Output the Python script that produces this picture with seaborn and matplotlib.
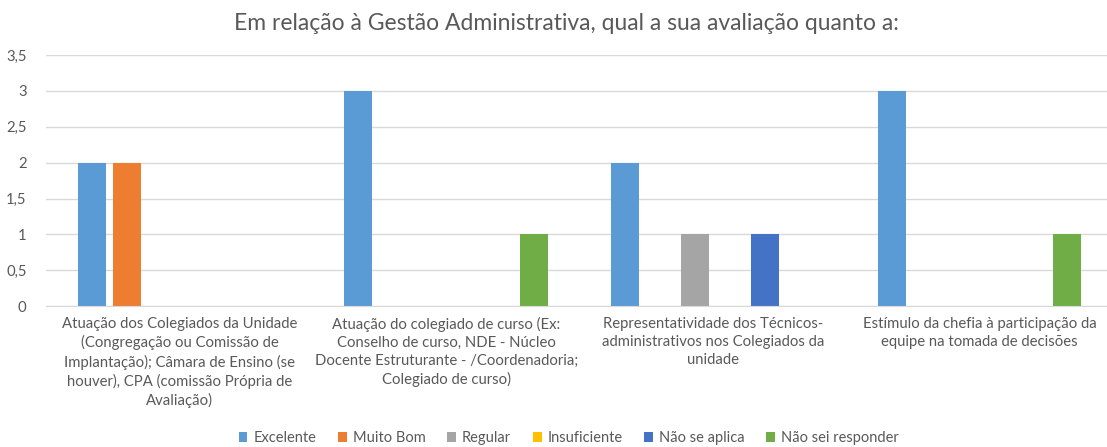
import pandas as pd
import seaborn as sns
import matplotlib.pyplot as plt
from matplotlib.ticker import FuncFormatter, MultipleLocator

categories = [
    "Atuação dos Colegiados da Unidade\n(Congregação ou Comissão de\nImplantação); Câmara de Ensino (se\nhouver), CPA (comissão Própria de\nAvaliação)",
    "Atuação do colegiado de curso (Ex:\nConselho de curso, NDE - Núcleo\nDocente Estruturante - /Coordenadoria;\nColegiado de curso)",
    "Representatividade dos Técnicos-\nadministrativos nos Colegiados da\nunidade",
    "Estímulo da chefia à participação da\nequipe na tomada de decisões",
]
series = ["Excelente", "Muito Bom", "Regular", "Insuficiente", "Não se aplica", "Não sei responder"]
excelente = [2, 3, 2, 3]
muito_bom = [2, 0, 0, 0]
regular = [0, 0, 1, 0]
insuficiente = [0, 0, 0, 0]
nao_se_aplica = [0, 0, 1, 0]
nao_sei = [0, 1, 0, 1]

colors = ["#5B9BD5", "#ED7D31", "#A5A5A5", "#FFC000", "#4472C4", "#70AD47"]

values = [excelente, muito_bom, regular, insuficiente, nao_se_aplica, nao_sei]
rows = []
for name, vals in zip(series, values):
    for cat, v in zip(categories, vals):
        rows.append({"Categoria": cat, "Resposta": name, "Valor": v})
df = pd.DataFrame(rows)

sns.set_style("white")
plt.rcParams["font.family"] = ["Lato", "DejaVu Sans"]

fig = plt.figure(figsize=(11.07, 4.47), dpi=100)
ax = fig.add_axes([0.0416, 0.315, 0.9636, 0.562])

sns.barplot(
    data=df, x="Categoria", y="Valor", hue="Resposta",
    hue_order=series, palette=colors, width=0.79, gap=0.2,
    saturation=1, linewidth=0, ax=ax,
)

ax.set_ylim(0, 3.5)
ax.yaxis.set_major_locator(MultipleLocator(0.5))
ax.yaxis.set_major_formatter(FuncFormatter(lambda v, _: f"{v:g}".replace(".", ",")))
ax.grid(axis="y", color="#D9D9D9", linewidth=1)
ax.set_axisbelow(True)
for side in ["top", "right", "left"]:
    ax.spines[side].set_visible(False)
ax.spines["bottom"].set_color("#D9D9D9")
ax.tick_params(axis="both", length=0, colors="#595959", labelsize=10.7)
ax.tick_params(axis="y", pad=14)
ax.tick_params(axis="x", pad=8)
for lbl in ax.get_xticklabels():
    lbl.set_linespacing(1.34)
ax.set_xlabel("")
ax.set_ylabel("")

fig.suptitle("Em relação à Gestão Administrativa, qual a sua avaliação quanto a:",
             x=0.512, y=0.972, fontsize=16.5, color="#595959")

sns.move_legend(
    ax, "lower center", bbox_to_anchor=(0.49, -0.605), ncol=6, frameon=False,
    title=None, fontsize=10.5, handlelength=0.6, handleheight=0.6,
    handletextpad=0.4, columnspacing=1.5,
)
for t in ax.get_legend().get_texts():
    t.set_color("#595959")

fig.savefig("out.png", dpi=100)
